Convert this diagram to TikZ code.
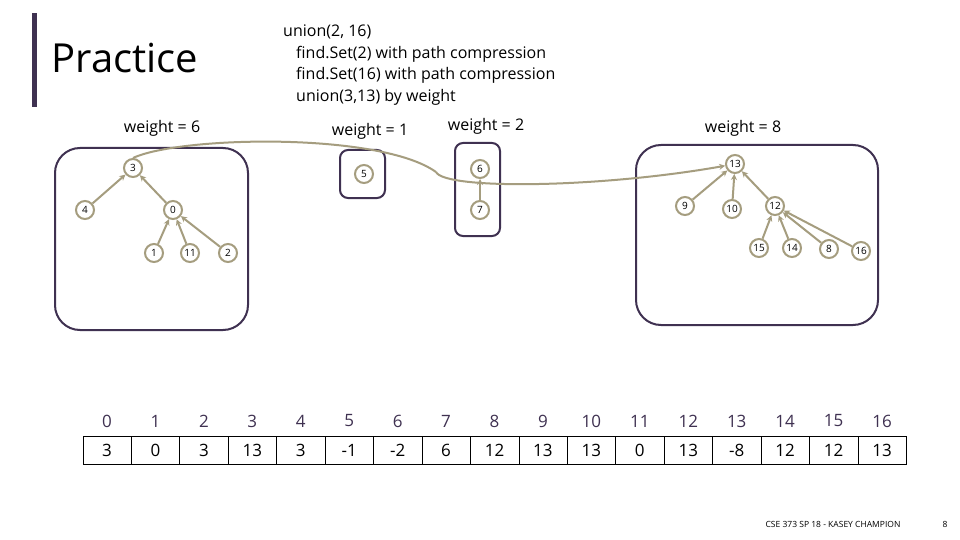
\documentclass[tikz,border=0pt]{standalone}
\usepackage{fontspec}
\usetikzlibrary{arrows.meta}
\setmainfont{Open Sans}
\begin{document}
\begin{tikzpicture}[x=1pt,y=-1pt,
  nd/.style={circle,draw=tan,line width=2pt,minimum size=18pt,inner sep=0pt,font=\fontsize{10}{11}\selectfont},
  ar/.style={draw=tan,line width=2pt,-{Stealth[length=6pt,width=6pt]}},
  grp/.style={draw=purp,line width=2pt,rounded corners=#1},
  wt/.style={font=\fontsize{16}{18}\selectfont,text=black}]
\definecolor{purp}{HTML}{3F3151}
\definecolor{tan}{HTML}{A59D7F}
\useasboundingbox (0,0) rectangle (960,540);
\fill[white] (0,0) rectangle (960,540);
\fill[purp] (32,13) rectangle (37,107);
\node[anchor=west,font=\fontsize{40}{46}\selectfont] (title) at (48,58) {Practice};
\node[anchor=north west,align=left,font=\fontsize{16}{21.5}\selectfont,inner sep=0pt] (ops) at (283,25)
 {union(2, 16)\\\hspace*{13pt}find.Set(2) with path compression\\\hspace*{13pt}find.Set(16) with path compression\\\hspace*{13pt}union(3,13) by weight};
\node[wt] (w6) at (162,128) {weight = 6};
\node[wt] (w1) at (370,131) {weight = 1};
\node[wt] (w2) at (486,126) {weight = 2};
\node[wt] (w8) at (743,128) {weight = 8};
\draw[grp=25pt] (55,148) rectangle (248,330);
\draw[grp=8pt] (340,150) rectangle (385,198);
\draw[grp=8pt] (455,143) rectangle (500,236);
\draw[grp=25pt] (636,145) rectangle (878,325);
\node[nd] (n3) at (133,168) {3};
\node[nd] (n4) at (85,210) {4};
\node[nd] (n0) at (173,210) {0};
\node[nd] (n1) at (154,253) {1};
\node[nd] (n11) at (190,253) {11};
\node[nd] (n2) at (228,253) {2};
\node[nd] (n5) at (364,174) {5};
\node[nd] (n6) at (480,169) {6};
\node[nd] (n7) at (480,210) {7};
\node[nd] (n13) at (735,164) {13};
\node[nd] (n9) at (685,206) {9};
\node[nd] (n10) at (732,209) {10};
\node[nd] (n12) at (775,206) {12};
\node[nd] (n15) at (759,248) {15};
\node[nd] (n14) at (792,248) {14};
\node[nd] (n8) at (829,249) {8};
\node[nd] (n16) at (861,251) {16};
\foreach \c/\p in {n4/n3,n0/n3,n1/n0,n11/n0,n2/n0,n7/n6,n9/n13,n10/n13,n12/n13,n15/n12,n14/n12,n8/n12,n16/n12}
  \draw[ar] (\c) -- (\p);
\coordinate (bend) at (436,172);
\draw[draw=tan,line width=2pt] (n3.north) .. controls (180,136) and (380,132) .. (bend);
\draw[ar] (bend) .. controls (445,190) and (600,188) .. (n13);
\foreach \i/\v [count=\k from 0] in {0/3,1/0,2/3,3/13,4/3,5/-1,6/-2,7/6,8/12,9/13,10/13,11/0,12/13,13/-8,14/12,15/12,16/13}{
  \node[font=\fontsize{17}{19}\selectfont,text=purp] (i\k) at (107+48.44*\k,421) {\i};
  \node[font=\fontsize{17}{19}\selectfont] (v\k) at (107+48.44*\k,450) {\v};
}
\draw[line width=0.8pt] (83,436) rectangle (906,464);
\foreach \k in {1,...,16} \draw[line width=0.8pt] (83+48.44*\k,436) -- (83+48.44*\k,464);
\node[font=\fontsize{8.5}{10}\selectfont] (foot) at (833,524) {CSE 373 SP 18 - KASEY CHAMPION};
\node[font=\fontsize{8.5}{10}\selectfont] (pg) at (945,524) {8};
\end{tikzpicture}
\end{document}
